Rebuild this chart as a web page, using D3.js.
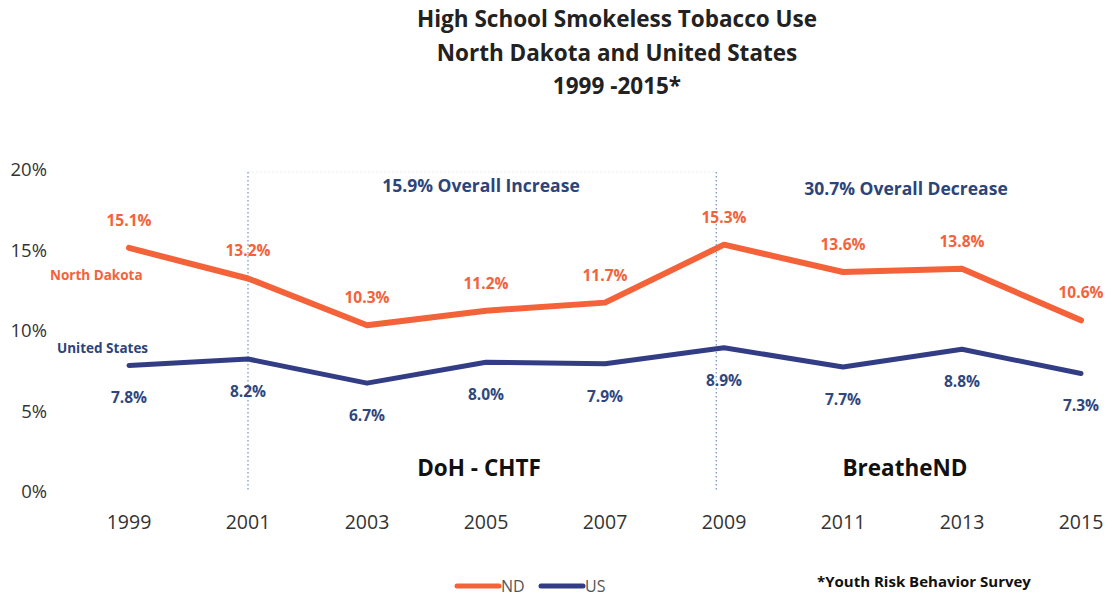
<!DOCTYPE html>
<html>
<head>
<script src="https://d3js.org/d3.v7.min.js"></script>
<style>
  body { margin: 0; background: #fff; }
  text { font-family: "Open Sans", Lato, sans-serif; }
</style>
</head>
<body>
<div id="chart"></div>
<script>
// chart data
const years = [1999, 2001, 2003, 2005, 2007, 2009, 2011, 2013, 2015];
const ndValues = [15.1, 13.2, 10.3, 11.2, 11.7, 15.3, 13.6, 13.8, 10.6];
const usValues = [7.8, 8.2, 6.7, 8.0, 7.9, 8.9, 7.7, 8.8, 7.3];
const yTicks = [0, 5, 10, 15, 20];
const dividers = [2001, 2008.87];
const titleLines = ["High School Smokeless Tobacco Use", "North Dakota and United States", "1999 -2015*"];

const ndColor = "#f4623a";
const usColor = "#333d85";
const noteColor = "#2c4479";

const width = 1112, height = 596;
const svg = d3.select("#chart").append("svg")
    .attr("width", width).attr("height", height);

const x = d3.scaleLinear().domain([1999, 2015]).range([129, 1081]);
const y = d3.scaleLinear().domain([0, 20]).range([491, 169]);

// title
svg.append("g").selectAll("text")
    .data(titleLines).enter().append("text")
    .attr("x", 617).attr("y", (d, i) => 27 + i * 33.5)
    .attr("text-anchor", "middle")
    .style("font-size", "22.5px").style("font-weight", "bold").style("fill", "#222")
    .text(d => d);

// y axis labels
svg.append("g").selectAll("text")
    .data(yTicks).enter().append("text")
    .attr("x", 47).attr("y", d => y(d) + 7)
    .attr("text-anchor", "end")
    .style("font-size", "18.5px").style("fill", "#333")
    .text(d => d + "%");

// x axis labels
svg.append("g").selectAll("text")
    .data(years).enter().append("text")
    .attr("x", d => x(d)).attr("y", 529)
    .attr("text-anchor", "middle")
    .style("font-size", "19.5px").style("fill", "#333")
    .text(d => d);

// faint top border of the period box
svg.append("line")
    .attr("x1", x(dividers[0])).attr("x2", x(dividers[1]))
    .attr("y1", 172).attr("y2", 172)
    .style("stroke", "#eceef3").style("stroke-width", 1).style("stroke-dasharray", "2,2");

// period dividers
svg.append("g").selectAll("line")
    .data(dividers).enter().append("line")
    .attr("x1", d => x(d)).attr("x2", d => x(d))
    .attr("y1", 172).attr("y2", 492)
    .style("stroke", "#6f8fc9").style("stroke-width", 1.2).style("stroke-dasharray", "1.5,2.5");

// lines
const line = d3.line().x((d, i) => x(years[i])).y(d => y(d));
svg.append("path").datum(usValues)
    .attr("d", line).style("fill", "none")
    .style("stroke", usColor).style("stroke-width", 5).style("stroke-linejoin", "round").style("stroke-linecap", "round");
svg.append("path").datum(ndValues)
    .attr("d", line).style("fill", "none")
    .style("stroke", ndColor).style("stroke-width", 6).style("stroke-linejoin", "round").style("stroke-linecap", "round");

// data labels
svg.append("g").selectAll("text")
    .data(ndValues).enter().append("text")
    .attr("x", (d, i) => x(years[i])).attr("y", d => y(d) - 22)
    .attr("text-anchor", "middle")
    .style("font-size", "15.5px").style("font-weight", "bold").style("fill", ndColor)
    .text(d => d.toFixed(1) + "%");
svg.append("g").selectAll("text")
    .data(usValues).enter().append("text")
    .attr("x", (d, i) => x(years[i])).attr("y", d => y(d) + 38)
    .attr("text-anchor", "middle")
    .style("font-size", "15.5px").style("font-weight", "bold").style("fill", "#2f477e")
    .text(d => d.toFixed(1) + "%");

// series names
svg.append("text").attr("x", 50).attr("y", 280)
    .style("font-size", "13.5px").style("font-weight", "bold").style("fill", ndColor)
    .text("North Dakota");
svg.append("text").attr("x", 57).attr("y", 353)
    .style("font-size", "13.5px").style("font-weight", "bold").style("fill", noteColor)
    .text("United States");

// period annotations
svg.append("text").attr("x", 481).attr("y", 192).attr("text-anchor", "middle")
    .style("font-size", "17.5px").style("font-weight", "bold").style("fill", noteColor)
    .text("15.9% Overall Increase");
svg.append("text").attr("x", 906).attr("y", 195).attr("text-anchor", "middle")
    .style("font-size", "17.5px").style("font-weight", "bold").style("fill", noteColor)
    .text("30.7% Overall Decrease");
svg.append("text").attr("x", 479).attr("y", 476).attr("text-anchor", "middle")
    .style("font-size", "22.5px").style("font-weight", "bold").style("fill", "#111")
    .text("DoH - CHTF");
svg.append("text").attr("x", 905).attr("y", 476).attr("text-anchor", "middle")
    .style("font-size", "22.5px").style("font-weight", "bold").style("fill", "#111")
    .text("BreatheND");

// legend
const legend = [{name: "ND", color: ndColor, x: 457}, {name: "US", color: usColor, x: 541}];
const lg = svg.append("g").selectAll("g").data(legend).enter().append("g");
lg.append("line")
    .attr("x1", d => d.x).attr("x2", d => d.x + 42)
    .attr("y1", 586).attr("y2", 586)
    .style("stroke", d => d.color).style("stroke-width", 5).style("stroke-linecap", "round");
lg.append("text")
    .attr("x", d => d.x + 44).attr("y", 592)
    .style("font-size", "16px").style("fill", "#555")
    .text(d => d.name);

svg.append("text").attr("x", 817).attr("y", 587)
    .style("font-size", "15px").style("font-weight", "bold").style("fill", "#111")
    .text("*Youth Risk Behavior Survey");
</script>
</body>
</html>
